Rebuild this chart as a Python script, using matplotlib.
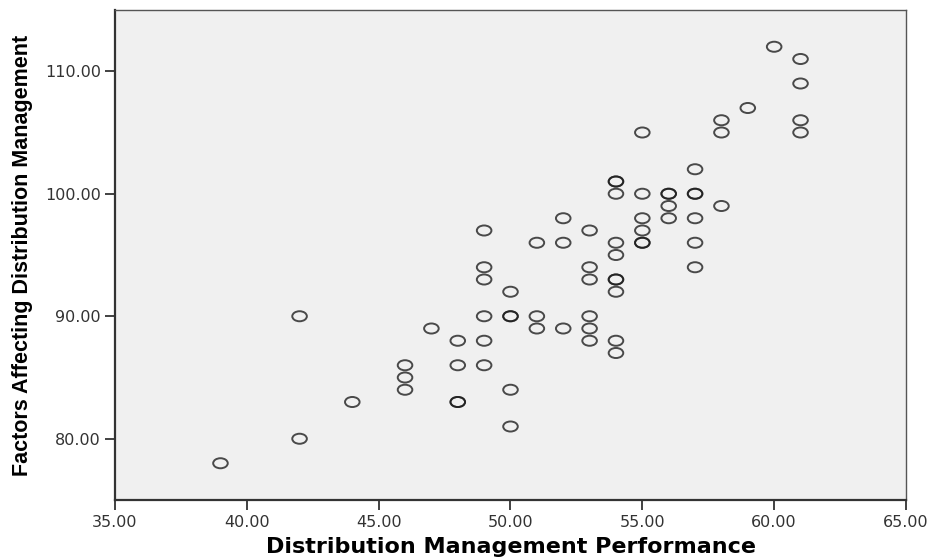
import numpy as np
import matplotlib
matplotlib.use('Agg')
import matplotlib.pyplot as plt
from matplotlib.path import Path
from matplotlib.transforms import Affine2D

# Distribution Management Performance (x) vs Factors Affecting Distribution Management (y)
# duplicates kept: they show darker in the original
perf = [39, 42, 42, 44, 46, 46, 46, 47,
        48, 48, 48, 48,
        49, 49, 49, 49, 49, 49,
        50, 50, 50, 50, 50,
        51, 51, 51,
        52, 52, 52,
        53, 53, 53, 53, 53, 53,
        54, 54, 54, 54, 54, 54, 54, 54, 54, 54,
        55, 55, 55, 55, 55, 55,
        56, 56, 56, 56,
        57, 57, 57, 57, 57, 57,
        58, 58, 58, 59, 60,
        61, 61, 61, 61]
factors = [78, 90, 80, 83, 86, 85, 84, 89,
           88, 86, 83, 83,
           97, 94, 93, 90, 88, 86,
           92, 90, 90, 84, 81,
           96, 90, 89,
           98, 96, 89,
           97, 94, 93, 90, 89, 88,
           101, 101, 100, 96, 95, 93, 93, 92, 88, 87,
           105, 100, 98, 97, 96, 96,
           100, 100, 99, 98,
           102, 100, 100, 98, 96, 94,
           106, 105, 99, 107, 112,
           111, 109, 106, 105]

x_ticks = [35, 40, 45, 50, 55, 60, 65]
y_ticks = [80, 90, 100, 110]

# wide ellipse marker like the SPSS output
ell = Path.unit_circle().transformed(Affine2D().scale(1.45, 1.0))

fig = plt.figure(figsize=(9.31, 5.59), dpi=100)
ax = fig.add_axes([115/931, 59/559, 791/931, 490/559])
ax.set_facecolor('#f0f0f0')

ax.scatter(perf, factors, marker=ell, s=10.5**2, facecolors='none',
           edgecolors='#1a1a1a', linewidths=1.4, alpha=0.78, zorder=3)

ax.set_xlim(35, 65)
ax.set_ylim(75, 115)
ax.set_xticks(x_ticks)
ax.set_yticks(y_ticks)
ax.set_xticklabels(['%.2f' % v for v in x_ticks])
ax.set_yticklabels(['%.2f' % v for v in y_ticks])

for s in ax.spines.values():
    s.set_color('#555555')
    s.set_linewidth(1.0)
ax.spines['left'].set_linewidth(1.6)
ax.spines['bottom'].set_linewidth(1.6)
ax.spines['left'].set_color('#333333')
ax.spines['bottom'].set_color('#333333')

ax.tick_params(axis='both', direction='out', length=7, width=1.3, color='#333333',
               labelsize=11.5, labelcolor='#333333')
ax.tick_params(axis='x', pad=4)
ax.tick_params(axis='y', pad=3)

ax.set_xlabel('Distribution Management Performance', fontsize=16, fontweight='bold',
              labelpad=5)
ax.set_ylabel('Factors Affecting Distribution Management', fontsize=15.5, fontweight='bold',
              family='Liberation Sans', labelpad=9)

fig.savefig('out.png', dpi=100)
